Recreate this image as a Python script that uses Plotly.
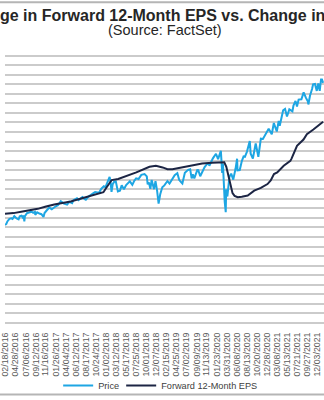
import plotly.graph_objects as go

# ---------------- data ----------------
price_dates = [
    "2016-02-17","2016-02-26","2016-03-04","2016-03-11","2016-03-18","2016-03-31","2016-04-08","2016-04-20",
    "2016-04-29","2016-05-06","2016-05-19","2016-05-27","2016-06-08","2016-06-16","2016-06-23","2016-06-27",
    "2016-07-01","2016-07-15","2016-07-29","2016-08-15","2016-08-26","2016-09-07","2016-09-09","2016-09-22",
    "2016-10-07","2016-10-21","2016-11-04","2016-11-11","2016-11-25","2016-12-13","2016-12-30",
    "2017-01-13","2017-01-26","2017-02-10","2017-03-01","2017-03-22","2017-04-13","2017-04-28","2017-05-17",
    "2017-05-26","2017-06-19","2017-06-29","2017-07-14","2017-07-26","2017-08-10","2017-08-18","2017-09-01",
    "2017-09-20","2017-10-06","2017-10-20","2017-11-15","2017-12-01","2017-12-18","2017-12-29",
    "2018-01-12","2018-01-26","2018-02-02","2018-02-08","2018-02-16","2018-02-26","2018-03-09","2018-03-23",
    "2018-04-06","2018-04-18","2018-05-03","2018-05-18","2018-06-12","2018-06-29","2018-07-13","2018-07-25",
    "2018-08-10","2018-08-29","2018-09-20","2018-10-05","2018-10-11","2018-10-19","2018-10-29","2018-11-07",
    "2018-11-23","2018-12-03","2018-12-14","2018-12-24",
    "2019-01-04","2019-01-18","2019-02-01","2019-02-22","2019-03-08","2019-03-22","2019-04-12","2019-04-30",
    "2019-05-13","2019-05-31","2019-06-03","2019-06-20","2019-07-12","2019-07-26","2019-08-05","2019-08-13",
    "2019-08-23","2019-09-12","2019-09-19","2019-10-02","2019-10-18","2019-11-01","2019-11-15","2019-11-29",
    "2019-12-03","2019-12-27",
    "2020-01-17","2020-01-31","2020-02-19","2020-02-28","2020-03-04","2020-03-12","2020-03-13","2020-03-16",
    "2020-03-23","2020-03-26","2020-04-03","2020-04-17","2020-04-29","2020-05-13","2020-05-29","2020-06-08",
    "2020-06-11","2020-06-26","2020-07-10","2020-07-22","2020-07-31","2020-08-14","2020-09-02","2020-09-08",
    "2020-09-23","2020-10-12","2020-10-30","2020-11-09","2020-11-16","2020-11-30","2020-12-18",
    "2021-01-08","2021-01-29","2021-02-12","2021-03-04","2021-03-17","2021-03-24","2021-04-16","2021-04-29",
    "2021-05-12","2021-05-28","2021-06-18","2021-06-25","2021-07-09","2021-07-19","2021-07-30","2021-08-18",
    "2021-08-27","2021-09-02","2021-09-17","2021-10-01","2021-10-04","2021-10-15","2021-10-29","2021-11-05",
    "2021-11-18","2021-11-30","2021-12-10","2021-12-20","2021-12-29",
    "2022-01-04","2022-01-12",
]
price_values = [
    1926,1948,1999,2022,2049,2059,2047,2102,
    2065,2057,2040,2099,2112,2077,2113,2000,
    2102,2161,2173,2190,2169,2186,2128,2177,
    2153,2141,2085,2164,2213,2271,2239,
    2275,2297,2316,2396,2348,2329,2384,2357,
    2416,2453,2419,2459,2477,2438,2425,2477,
    2508,2549,2575,2564,2642,2690,2674,
    2786,2873,2762,2581,2732,2779,2786,2588,
    2604,2708,2630,2713,2786,2718,2801,2846,
    2833,2914,2931,2885,2728,2767,2641,2814,
    2633,2790,2600,2351,
    2532,2671,2707,2793,2743,2800,2907,2946,
    2812,2752,2744,2954,3014,3026,2844,2926,
    2847,3009,3006,2887,2986,3067,3120,3141,
    3093,3240,
    3330,3225,3386,2954,3130,2480,2711,2386,
    2180,2630,2489,2875,2939,2820,3044,3232,
    3002,3009,3185,3276,3271,3372,3580,3332,
    3237,3534,3270,3550,3627,3622,3709,
    3824,3714,3934,3768,3974,3881,4185,4211,
    4063,4204,4166,4280,4369,4258,4395,4400,
    4509,4537,4433,4357,4300,4471,4605,4697,
    4704,4567,4712,4568,4793,
    4793,4726,
]

eps_dates = [
    "2016-02-17","2016-04-15","2016-06-15","2016-09-26","2016-11-15","2017-01-16","2017-05-07","2017-08-26",
    "2017-12-15","2018-01-06","2018-02-09","2018-03-25","2018-05-15","2018-07-26","2018-10-23","2018-12-06",
    "2019-01-20","2019-02-22","2019-03-28","2019-06-03","2019-08-09","2019-10-15","2019-12-21","2020-02-23",
    "2020-03-13","2020-03-27","2020-04-10","2020-04-24","2020-05-08","2020-05-22","2020-06-12","2020-07-10",
    "2020-08-19","2020-10-02","2020-11-16","2020-12-31","2021-01-22","2021-02-13","2021-03-07","2021-04-20",
    "2021-06-04","2021-06-12","2021-06-28","2021-07-19","2021-09-01","2021-09-24","2021-11-07","2021-12-21",
    "2022-01-12",
]
eps_values = [
    120.3,121.0,122.8,125.7,128.0,130.4,133.7,138.5,
    144.0,149.4,157.4,158.5,161.5,165.8,172.0,173.1,
    171.3,169.4,169.4,171.3,173.1,175.7,176.4,177.5,
    177.0,172.0,162.0,150.0,143.0,140.0,138.5,139.0,
    140.3,145.7,148.7,153.0,157.0,164.0,165.8,173.1,
    178.5,181.0,188.0,195.0,202.0,208.0,213.0,219.0,
    221.6,
]

tick_dates = [
    "2016-02-18","2016-04-28","2016-07-06","2016-09-12","2016-11-16","2017-01-26","2017-04-04","2017-06-12",
    "2017-08-17","2017-10-24","2018-01-02","2018-03-12","2018-05-17","2018-07-25","2018-10-01","2018-12-07",
    "2019-02-15","2019-04-25","2019-07-02","2019-09-09","2019-11-13","2020-01-23","2020-03-31","2020-06-08",
    "2020-08-13","2020-10-20","2020-12-28","2021-03-08","2021-05-13","2021-07-21","2021-09-27","2021-12-03",
]
tick_labels = [
    "02/18/2016","04/28/2016","07/06/2016","09/12/2016","11/16/2016","01/26/2017","04/04/2017","06/12/2017",
    "08/17/2017","10/24/2017","01/02/2018","03/12/2018","05/17/2018","07/25/2018","10/01/2018","12/07/2018",
    "02/15/2019","04/25/2019","07/02/2019","09/09/2019","11/13/2019","01/23/2020","03/31/2020","06/08/2020",
    "08/13/2020","10/20/2020","12/28/2020","03/08/2021","05/13/2021","07/21/2021","09/27/2021","12/03/2021",
]

title_text = "Change in Forward 12-Month EPS vs. Change in Price"
subtitle_text = "(Source: FactSet)"
series_names = ["Price", "Forward 12-Month EPS"]

# ---------------- figure ----------------
PRICE_COLOR = "#1ea6e3"
EPS_COLOR = "#1c2544"
N_GRID = 29
PRICE_TOP = 5450
EPS_TOP = 305

fig = go.Figure()
fig.add_trace(go.Scatter(x=price_dates, y=price_values, name=series_names[0], mode="lines",
                         line=dict(color=PRICE_COLOR, width=2), yaxis="y", legend="legend"))
fig.add_trace(go.Scatter(x=eps_dates, y=eps_values, name=series_names[1], mode="lines",
                         line=dict(color=EPS_COLOR, width=2), yaxis="y2", legend="legend2"))

legend_common = dict(orientation="h", xanchor="left", y=-0.226, yanchor="middle",
                     font=dict(size=9.2, color="#404040"), bgcolor="rgba(0,0,0,0)", itemwidth=30)

fig.update_layout(
    width=324, height=400,
    margin=dict(l=0, r=0, t=46, b=75),
    paper_bgcolor="white", plot_bgcolor="white",
    font=dict(family="Arial, Liberation Sans, sans-serif", color="#404040"),
    showlegend=True,
    legend=dict(x=54 / 324, **legend_common),
    legend2=dict(x=118 / 324, **legend_common),
    xaxis=dict(type="date", range=["2016-02-17", "2022-01-18"],
               tickmode="array", tickvals=tick_dates, ticktext=tick_labels,
               tickangle=-90, tickfont=dict(size=8.8, color="#595959"),
               ticklabeloverflow="allow",
               showgrid=False, zeroline=False, showline=False,
               ticks="outside", ticklen=5, tickcolor="rgba(0,0,0,0)"),
    yaxis=dict(range=[0, PRICE_TOP], tick0=0, dtick=PRICE_TOP / N_GRID,
               showticklabels=False, showgrid=True, gridcolor="#cbcbcb", gridwidth=1.5,
               zeroline=True, zerolinecolor="#cbcbcb", zerolinewidth=1.5, showline=False, ticks=""),
    yaxis2=dict(range=[0, EPS_TOP], overlaying="y", side="right",
                showticklabels=False, showgrid=False, zeroline=False, showline=False, ticks=""),
    annotations=[
        dict(text="<b>" + title_text + "</b>", x=0.5, y=(325 - 15) / 279, xref="paper", yref="paper",
             xanchor="center", yanchor="middle", showarrow=False,
             font=dict(size=16, color="#262626")),
        dict(text=subtitle_text, x=0.5, y=(325 - 29.5) / 279, xref="paper", yref="paper",
             xanchor="center", yanchor="middle", showarrow=False,
             font=dict(size=14.5, color="#262626")),
    ],
    shapes=[
        dict(type="rect", xref="paper", yref="paper", x0=-0.02, x1=1.02,
             y0=(325 - 397) / 279, y1=(325 - 2) / 279,
             line=dict(color="#b5b5b5", width=2), fillcolor="rgba(0,0,0,0)", layer="below"),
    ],
)

fig.write_html("out.html", config={"displayModeBar": False})
